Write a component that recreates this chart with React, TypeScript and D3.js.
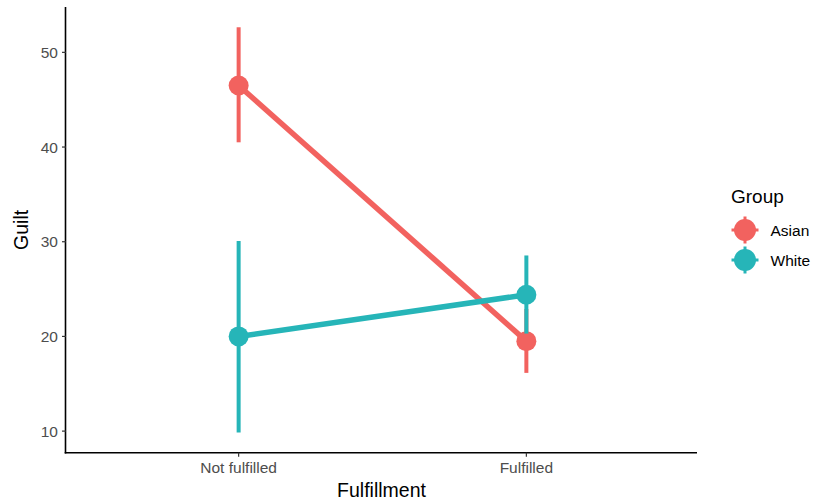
import React from "react";
import * as d3 from "d3";

const categories = ["Not fulfilled", "Fulfilled"];
const groups = ["Asian", "White"];
const colors = ["#F2625F", "#26B5B8"];
const means = [
  [46.5, 19.5],
  [20.0, 24.4],
];
const lows = [
  [40.5, 16.15],
  [9.86, 20.3],
];
const highs = [
  [52.65, 22.9],
  [30.07, 28.55],
];
const yTicks = [10, 20, 30, 40, 50];

export default function App() {
  const W = 817, H = 502;
  const left = 66, right = 697, top = 7, bottom = 452.7;
  const allVals = [...lows.flat(), ...highs.flat()];
  const mn = d3.min(allVals)!, mx = d3.max(allVals)!;
  const pad = (mx - mn) * 0.05;
  const y = d3.scaleLinear().domain([mn - pad, mx + pad]).range([bottom, top]);
  const xIdx = d3.scaleLinear().domain([0.4, 2.6]).range([left, left + 633]);
  const x = (c: string) => xIdx(categories.indexOf(c) + 1);
  const font = "'Liberation Sans', Arial, Helvetica, sans-serif";
  const line = d3.line<[number, number]>().x((d) => d[0]).y((d) => d[1]);

  return (
    <svg width={W} height={H} style={{ position: "absolute", left: 0, top: 0 }} fontFamily={font}>
      <rect width={W} height={H} fill="white" />
      {groups.map((g, gi) => (
        <g key={g}>
          {categories.map((c, ci) => (
            <line key={c} x1={x(c)} x2={x(c)} y1={y(lows[gi][ci])} y2={y(highs[gi][ci])}
              stroke={colors[gi]} strokeWidth={4} />
          ))}
          <path d={line(categories.map((c, ci) => [x(c), y(means[gi][ci])]))!} fill="none"
            stroke={colors[gi]} strokeWidth={5.5} />
          {categories.map((c, ci) => (
            <circle key={c} cx={x(c)} cy={y(means[gi][ci])} r={10} fill={colors[gi]} />
          ))}
        </g>
      ))}
      {/* axes */}
      <line x1={left - 0.5} x2={left - 0.5} y1={top} y2={bottom + 0.7} stroke="black" strokeWidth={1.6} />
      <line x1={left - 1.3} x2={right} y1={bottom} y2={bottom} stroke="black" strokeWidth={1.6} />
      {yTicks.map((t) => (
        <g key={t}>
          <line x1={left - 4} x2={left} y1={y(t)} y2={y(t)} stroke="#333" strokeWidth={1.2} />
          <text x={left - 8} y={y(t)} dy="0.36em" textAnchor="end" fontSize={15.5} fill="#4d4d4d">{t}</text>
        </g>
      ))}
      {categories.map((c) => (
        <g key={c}>
          <line x1={x(c)} x2={x(c)} y1={bottom} y2={bottom + 4} stroke="#333" strokeWidth={1.2} />
          <text x={x(c)} y={bottom + 20.5} textAnchor="middle" fontSize={15.5} fill="#4d4d4d">{c}</text>
        </g>
      ))}
      <text x={(left + right) / 2} y={497} textAnchor="middle" fontSize={19.5} fill="black">Fulfillment</text>
      <text transform={`translate(28,${(top + bottom) / 2}) rotate(-90)`} textAnchor="middle" fontSize={19.5} fill="black">Guilt</text>
      {/* legend */}
      <text x={731} y={203} fontSize={19} fill="black">Group</text>
      {groups.map((g, gi) => {
        const cy = 230 + gi * 30;
        return (
          <g key={g}>
            <line x1={731.5} x2={758.5} y1={cy} y2={cy} stroke={colors[gi]} strokeWidth={3} />
            <line x1={745} x2={745} y1={cy - 13.5} y2={cy + 13.5} stroke={colors[gi]} strokeWidth={3} />
            <circle cx={745} cy={cy} r={11} fill={colors[gi]} />
            <text x={770.5} y={cy} dy="0.36em" fontSize={15.5} fill="black">{g}</text>
          </g>
        );
      })}
    </svg>
  );
}
